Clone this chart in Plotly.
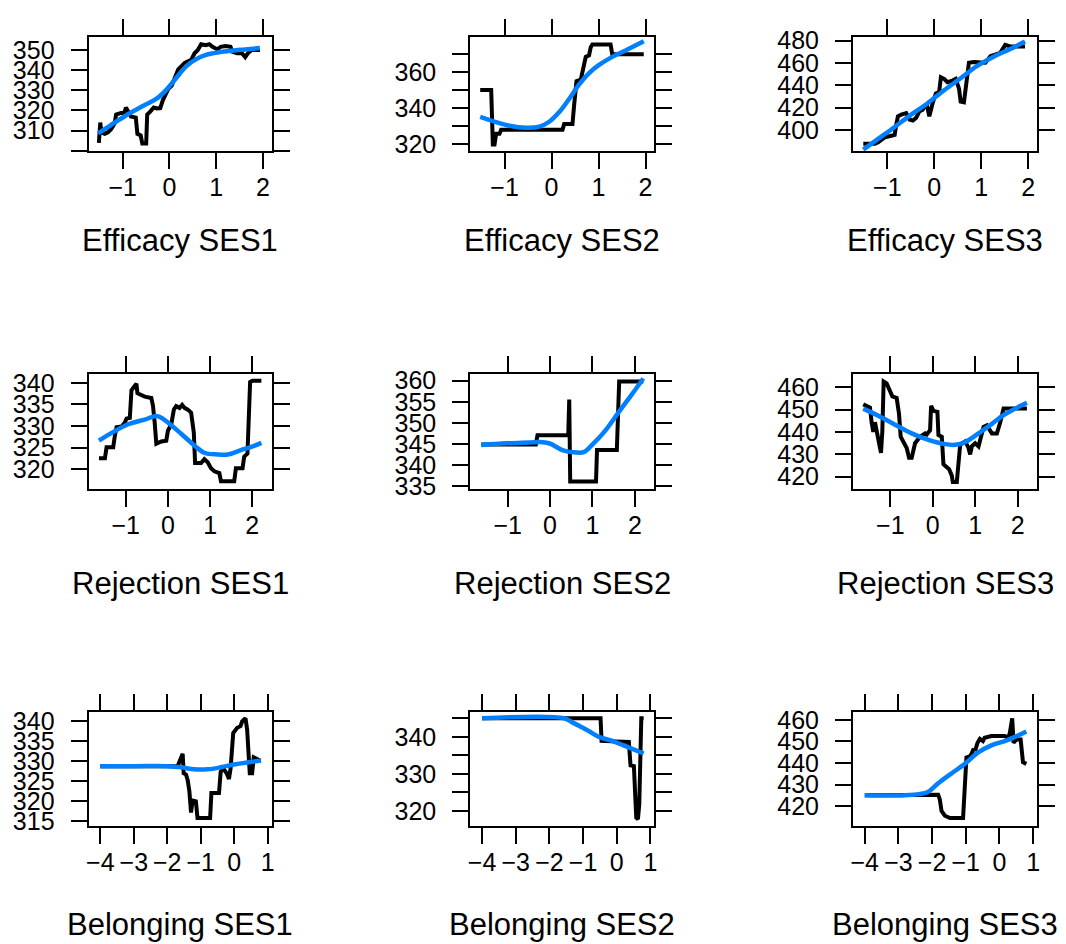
import plotly.graph_objects as go

# ---- Efficacy ----
eff1_x = [-1.51, -1.48, -1.455, -1.385, -1.315, -1.245, -1.175, -1.14, -1.035, -0.965, -0.93, -0.895,
          -0.825, -0.72, -0.685, -0.615, -0.58, -0.497, -0.476, -0.406, -0.336, -0.266, -0.196, -0.14,
          -0.091, -0.021, 0.049, 0.119, 0.189, 0.259, 0.329, 0.399, 0.469, 0.538, 0.608, 0.678, 0.783,
          0.853, 0.923, 1.028, 1.098, 1.203, 1.308, 1.343, 1.448, 1.552, 1.622, 1.678, 1.762, 1.937]
eff1_y = [303.9, 314.0, 309.0, 308.4, 309.2, 310.8, 313.5, 318.0, 318.8, 318.8, 321.5, 319.6,
          317.0, 316.5, 308.4, 307.6, 303.6, 303.6, 318.0, 319.6, 321.5, 321.0, 321.2, 325.2,
          327.6, 330.8, 332.4, 336.4, 340.4, 342.0, 343.6, 344.4, 345.2, 348.4, 350.0, 352.9, 352.4,
          352.9, 351.6, 350.3, 351.6, 352.0, 351.6, 349.2, 348.4, 348.4, 346.5, 348.4, 350.0, 350.0]
eff1_sx = [-1.524, -1.245, -0.895, -0.545, -0.266, -0.056, 0.154, 0.364, 0.573, 0.783, 1.063, 1.343, 1.622, 1.937]
eff1_sy = [308.7, 312.9, 318.0, 322.5, 326.0, 330.5, 336.4, 342.0, 345.5, 347.6, 348.9, 349.7, 350.3, 351.0]

eff2_x = [-1.519, -1.285, -1.25, -1.214, -1.179, -1.108, -1.073, 0.233, 0.268, 0.445, 0.48, 0.53,
          0.622, 0.671, 0.728, 0.799, 0.834, 0.869, 1.256, 1.292, 1.963]
eff2_y = [350.0, 350.0, 319.6, 319.6, 325.6, 325.6, 327.8, 327.8, 331.0, 331.0, 341.4, 354.9,
          355.8, 361.3, 368.5, 369.4, 373.9, 375.4, 375.4, 370.0, 370.0]
eff2_sx = [-1.519, -1.25, -0.896, -0.544, -0.261, -0.049, 0.163, 0.374, 0.587, 0.799, 1.011, 1.292, 1.576, 1.963]
eff2_sy = [335.0, 332.7, 330.1, 329.0, 329.6, 332.3, 337.7, 345.0, 353.1, 359.5, 364.0, 368.5, 372.1, 377.2]

eff3_x = [-1.511, -1.265, -1.195, -1.054, -0.914, -0.843, -0.808, -0.773, -0.703, -0.597, -0.527, -0.457,
          -0.387, -0.316, -0.246, -0.211, -0.155, -0.105, -0.035, 0.035, 0.105, 0.141, 0.211, 0.281,
          0.387, 0.457, 0.527, 0.562, 0.632, 0.703, 0.738, 0.843, 0.984, 1.089, 1.195, 1.300, 1.405,
          1.511, 1.616, 1.827, 1.932]
eff3_y = [387.5, 387.5, 389.0, 393.3, 394.8, 395.6, 404.9, 412.2, 413.7, 415.1, 409.3, 408.4,
          410.8, 416.6, 418.0, 420.9, 421.8, 412.2, 423.9, 432.6, 434.0, 447.1, 445.7, 442.8,
          444.2, 445.7, 437.0, 425.3, 424.7, 451.5, 460.2, 460.8, 460.8, 460.2, 466.0, 467.5, 469.0,
          476.2, 474.8, 474.8, 474.8]
eff3_sx = [-1.511, -1.195, -0.843, -0.492, -0.141, 0.211, 0.562, 0.914, 1.265, 1.616, 1.932]
eff3_sy = [382.3, 391.9, 402.6, 413.7, 423.9, 435.5, 446.3, 457.3, 465.5, 472.4, 479.1]

# ---- Rejection ----
rej1_x = [-1.634, -1.493, -1.454, -1.296, -1.257, -1.218, -1.100, -1.021, -0.982, -0.903, -0.864, -0.786,
          -0.746, -0.723, -0.628, -0.55, -0.393, -0.353, -0.314, -0.275, -0.157, -0.039, 0.0, 0.079,
          0.141, 0.196, 0.275, 0.338, 0.393, 0.471, 0.55, 0.613, 0.644, 0.786, 0.864, 0.943, 1.021,
          1.1, 1.218, 1.257, 1.571, 1.611, 1.768, 1.807, 1.885, 1.948, 2.003, 2.215]
rej1_y = [322.5, 322.5, 325.1, 325.1, 327.8, 329.7, 329.9, 330.8, 331.7, 331.9, 338.3, 339.5,
          339.8, 337.6, 337.2, 336.8, 336.5, 334.6, 330.8, 325.9, 326.4, 326.6, 328.9, 330.4,
          333.8, 334.6, 334.2, 334.9, 334.2, 333.8, 333.1, 328.5, 321.4, 321.4, 322.3, 321.6, 320.2,
          319.5, 319.1, 317.2, 317.2, 320.2, 320.2, 322.9, 323.6, 340.2, 340.5, 340.5]
rej1_sx = [-1.634, -1.335, -0.943, -0.55, -0.275, -0.157, 0.0, 0.314, 0.628, 0.864, 1.178, 1.414, 1.728, 2.042, 2.215]
rej1_sy = [326.6, 328.4, 330.4, 331.5, 332.3, 331.9, 330.8, 328.2, 325.5, 323.8, 323.4, 323.4, 324.4, 325.4, 326.1]

rej2_x = [-1.621, -0.335, -0.296, 0.429, 0.452, 0.475, 1.083, 1.107, 1.574, 1.629, 2.198]
rej2_y = [344.9, 344.9, 347.1, 347.1, 355.5, 336.2, 336.2, 343.6, 343.6, 359.8, 359.8]
rej2_sx = [-1.621, -1.037, -0.491, -0.257, -0.023, 0.288, 0.522, 0.795, 0.99, 1.302, 1.614, 1.925, 2.198]
rej2_sy = [344.8, 345.2, 345.4, 345.5, 345.2, 343.6, 343.1, 343.1, 344.8, 348.2, 352.5, 356.7, 360.5]

rej3_x = [-1.638, -1.559, -1.48, -1.441, -1.402, -1.362, -1.283, -1.22, -1.189, -1.157, -1.087, -1.008,
          -0.953, -0.85, -0.795, -0.756, -0.693, -0.614, -0.559, -0.496, -0.417, -0.299, -0.181, -0.142,
          -0.063, -0.039, 0.016, 0.11, 0.134, 0.213, 0.252, 0.331, 0.386, 0.449, 0.472, 0.567, 0.646,
          0.764, 0.843, 0.882, 0.921, 1.0, 1.079, 1.197, 1.276, 1.394, 1.512, 1.591, 1.669, 2.22]
rej3_y = [452.3, 451.6, 450.9, 444.3, 440.0, 444.3, 435.7, 430.6, 440.0, 462.5, 461.7, 458.8,
          455.9, 455.2, 448.0, 437.8, 435.9, 432.8, 428.4, 428.4, 434.9, 437.8, 439.3, 438.8,
          440.7, 451.6, 449.4, 449.0, 438.6, 437.8, 425.5, 424.0, 423.3, 420.4, 417.5, 417.5, 434.2,
          435.7, 432.8, 429.9, 433.5, 434.9, 433.5, 442.2, 442.9, 439.3, 439.3, 444.3, 450.4, 450.4]
rej3_sx = [-1.638, -1.283, -0.89, -0.496, -0.102, 0.291, 0.528, 0.764, 1.079, 1.394, 1.709, 2.22]
rej3_sy = [450.4, 447.2, 443.2, 439.3, 436.4, 434.5, 434.2, 435.4, 439.3, 443.6, 448.0, 453.0]

# ---- Belonging ----
bel1_x = [-4.0, -1.69, -1.54, -1.51, -1.44, -1.39, -1.34, -1.29, -1.245, -1.146, -1.097, -0.72,
          -0.682, -0.455, -0.405, -0.326, -0.227, -0.158, -0.109, -0.03, 0.089, 0.188, 0.237, 0.336,
          0.385, 0.464, 0.534, 0.583, 0.682, 0.78]
bel1_y = [328.8, 328.8, 331.9, 327.0, 326.7, 325.3, 322.5, 317.2, 320.2, 320.0, 315.8, 315.8,
          322.1, 322.1, 327.4, 328.2, 327.0, 325.6, 328.2, 337.1, 338.4, 338.8, 340.0, 340.8,
          338.0, 327.0, 327.0, 331.0, 330.6, 330.2]
bel1_sx = [-4.0, -2.97, -1.99, -1.59, -1.2, -0.8, -0.405, -0.01, 0.385, 0.8]
bel1_sy = [328.8, 328.8, 328.8, 328.5, 328.0, 328.0, 328.5, 329.2, 329.7, 330.2]

bel2_x = [-4.0, -0.48, -0.45, 0.36, 0.41, 0.51, 0.58, 0.63, 0.67, 0.73, 0.8]
bel2_y = [345.0, 345.0, 338.9, 338.6, 332.3, 332.1, 318.2, 317.8, 321.8, 345.0, 345.0]
bel2_sx = [-4.0, -1.56, -1.32, -1.12, -0.82, -0.53, -0.13, 0.26, 0.8]
bel2_sy = [345.0, 345.0, 343.9, 343.0, 341.5, 340.0, 338.9, 337.5, 335.5]

bel3_x = [-4.0, -1.82, -1.77, -1.72, -1.62, -1.47, -1.08, -1.03, -0.98, -0.88, -0.83, -0.78,
          -0.71, -0.65, -0.58, -0.49, -0.44, -0.24, 0.06, 0.16, 0.26, 0.31, 0.38, 0.42, 0.5,
          0.63, 0.7, 0.8]
bel3_y = [425.0, 425.3, 423.0, 417.7, 415.5, 414.4, 414.4, 434.3, 442.6, 443.1, 444.2, 446.1,
          446.4, 449.4, 451.2, 450.2, 451.7, 452.5, 452.8, 452.5, 451.7, 454.0, 460.8, 449.4, 450.9,
          450.9, 440.4, 439.6]
bel3_sx = [-4.0, -2.81, -2.22, -2.07, -1.82, -1.43, -1.03, -0.63, -0.24, 0.16, 0.55, 0.8]
bel3_sy = [425.0, 425.0, 426.0, 427.1, 430.6, 435.1, 439.6, 444.9, 448.2, 450.2, 452.8, 454.7]

titles = ["Efficacy SES1", "Efficacy SES2", "Efficacy SES3",
          "Rejection SES1", "Rejection SES2", "Rejection SES3",
          "Belonging SES1", "Belonging SES2", "Belonging SES3"]

# per-panel y ticks: (tick values, labels)
yticks = [
    ([300, 310, 320, 330, 340, 350], ["", "310", "320", "330", "340", "350"]),
    ([320, 330, 340, 350, 360, 370], ["320", "", "340", "", "360", ""]),
    ([400, 420, 440, 460, 480], ["400", "420", "440", "460", "480"]),
    ([320, 325, 330, 335, 340], ["320", "325", "330", "335", "340"]),
    ([335, 340, 345, 350, 355, 360], ["335", "340", "345", "350", "355", "360"]),
    ([420, 430, 440, 450, 460], ["420", "430", "440", "450", "460"]),
    ([315, 320, 325, 330, 335, 340], ["315", "320", "325", "330", "335", "340"]),
    ([320, 325, 330, 335, 340, 345], ["320", "", "330", "", "340", ""]),
    ([420, 430, 440, 450, 460], ["420", "430", "440", "450", "460"]),
]
yranges = [[299.9, 356.3], [316.0, 379.4], [381.1, 482.9],
           [315.5, 342.0], [334.5, 361.5], [414.6, 465.8],
           [313.9, 342.4], [316.05, 346.75], [410.9, 463.8]]

xticks_row = [[-1, 0, 1, 2], [-1, 0, 1, 2], [-4, -3, -2, -1, 0, 1]]
xranges_row = [[-1.73, 2.19], [-1.88, 2.46], [-4.35, 1.12]]

black = [(eff1_x, eff1_y), (eff2_x, eff2_y), (eff3_x, eff3_y),
         (rej1_x, rej1_y), (rej2_x, rej2_y), (rej3_x, rej3_y),
         (bel1_x, bel1_y), (bel2_x, bel2_y), (bel3_x, bel3_y)]
smooth = [(eff1_sx, eff1_sy), (eff2_sx, eff2_sy), (eff3_sx, eff3_sy),
          (rej1_sx, rej1_sy), (rej2_sx, rej2_sy), (rej3_sx, rej3_sy),
          (bel1_sx, bel1_sy), (bel2_sx, bel2_sy), (bel3_sx, bel3_sy)]

W, H = 1066, 944
col_px = [(87, 271), (470.5, 655.5), (855, 1040)]
row_px = [(27, 143.5), (372.3, 489.5), (718.3, 835)]
title_y_px = [235, 587, 936]

FONT = "Liberation Sans, Arial, Helvetica, sans-serif"
fig = go.Figure()
layout = dict(width=W, height=H, margin=dict(l=0, r=0, t=0, b=0),
              paper_bgcolor="white", plot_bgcolor="white", showlegend=False,
              font=dict(family=FONT, color="black"), annotations=[])

for i in range(9):
    r, c = divmod(i, 3)
    n = "" if i == 0 else str(i + 1)
    xa, ya = "x" + n, "y" + n
    bx, by = black[i]
    sx, sy = smooth[i]
    fig.add_trace(go.Scatter(x=bx, y=by, mode="lines", xaxis=xa, yaxis=ya,
                             line=dict(color="black", width=4), hoverinfo="skip"))
    fig.add_trace(go.Scatter(x=sx, y=sy, mode="lines", xaxis=xa, yaxis=ya,
                             line=dict(color="#0080ff", width=4.5, shape="spline"), hoverinfo="skip"))
    x0, x1 = col_px[c]
    y0, y1 = row_px[r]
    common = dict(showline=True, linecolor="black", linewidth=2, mirror="ticks",
                  ticks="outside", ticklen=16, tickwidth=2, tickcolor="black",
                  showgrid=False, zeroline=False,
                  tickfont=dict(size=25, family=FONT, color="black"))
    layout["xaxis" + n] = dict(common, domain=[x0 / W, x1 / W], anchor=ya,
                               range=xranges_row[r], tickmode="array",
                               tickvals=xticks_row[r],
                               ticktext=["\u2212" + str(-v) if v < 0 else str(v) for v in xticks_row[r]],
                               ticklabelstandoff=-3)
    layout["yaxis" + n] = dict(common, domain=[1 - y1 / H, 1 - y0 / H], anchor=xa,
                               range=yranges[i], tickmode="array",
                               tickvals=yticks[i][0], ticktext=yticks[i][1],
                               ticklabelstandoff=11)
    layout["annotations"].append(dict(text=titles[i], xref="paper", yref="paper",
                                      x=(x0 + x1) / 2 / W, y=1 - title_y_px[r] / H,
                                      xanchor="center", yanchor="middle", showarrow=False,
                                      font=dict(size=31, family=FONT, color="black")))

fig.update_layout(**layout)
fig.write_html("out.html")
